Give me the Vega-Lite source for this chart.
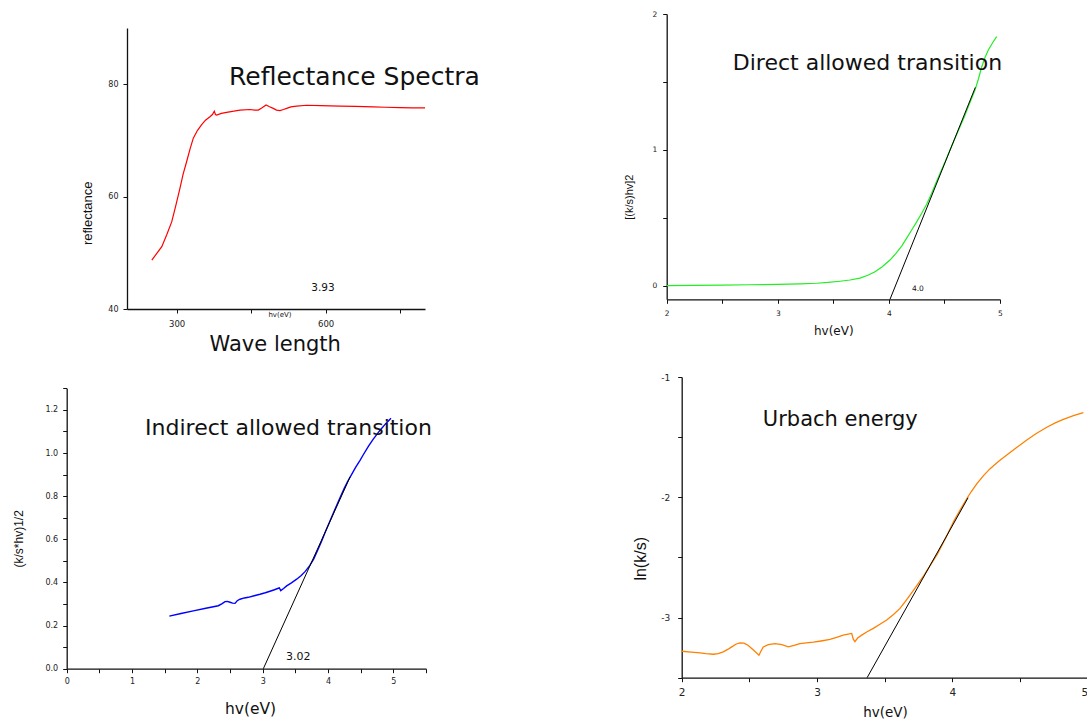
{
  "$schema": "https://vega.github.io/schema/vega-lite/v6.json",
  "width": 1087,
  "height": 720,
  "padding": 0,
  "autosize": {"type": "none"},
  "background": "white",
  "config": {
    "view": {"stroke": null},
    "axis": {
      "grid": false,
      "domainColor": "#111111",
      "domainWidth": 1.3,
      "tickColor": "#111111",
      "tickWidth": 1,
      "tickSize": 4,
      "labelColor": "#222222",
      "titleColor": "#111111",
      "labelFont": "DejaVu Sans",
      "titleFont": "DejaVu Sans",
      "titleFontWeight": "normal",
      "labelFontWeight": "normal",
      "labelFlush": false,
      "labelOverlap": false
    },
    "text": {"font": "DejaVu Sans", "color": "#111111"}
  },
  "datasets": {
    "reflectance": [
      {"x": 250, "y": 48.7}, {"x": 260, "y": 49.9}, {"x": 270, "y": 51.1}, {"x": 280, "y": 53.2},
      {"x": 290, "y": 55.5}, {"x": 298, "y": 58.3}, {"x": 306.7, "y": 61.5}, {"x": 313, "y": 64.0},
      {"x": 320, "y": 66.2}, {"x": 327, "y": 68.5}, {"x": 333.5, "y": 70.4}, {"x": 342, "y": 71.8},
      {"x": 350.4, "y": 72.8}, {"x": 358, "y": 73.6}, {"x": 367, "y": 74.2}, {"x": 372, "y": 74.6},
      {"x": 375.8, "y": 75.2}, {"x": 378, "y": 74.6}, {"x": 380.6, "y": 74.5}, {"x": 390, "y": 74.8},
      {"x": 400.7, "y": 75.0}, {"x": 415, "y": 75.2}, {"x": 427.5, "y": 75.4}, {"x": 447.6, "y": 75.5},
      {"x": 457, "y": 75.4}, {"x": 464.4, "y": 75.4}, {"x": 472, "y": 75.8}, {"x": 480, "y": 76.3},
      {"x": 487, "y": 76.0}, {"x": 494.6, "y": 75.7}, {"x": 501, "y": 75.4}, {"x": 508, "y": 75.3},
      {"x": 515, "y": 75.5}, {"x": 521.5, "y": 75.7}, {"x": 530, "y": 75.95}, {"x": 541.6, "y": 76.1},
      {"x": 561.8, "y": 76.25}, {"x": 590, "y": 76.2}, {"x": 628.8, "y": 76.1}, {"x": 660, "y": 76.05},
      {"x": 695.9, "y": 75.96}, {"x": 720, "y": 75.9}, {"x": 749.6, "y": 75.84}, {"x": 775, "y": 75.8},
      {"x": 800, "y": 75.8}
    ],
    "reflectance_title": [{"x": 658, "y": 81.3, "label": "Reflectance Spectra"}],
    "reflectance_value": [{"x": 594.6, "y": 43.7, "label": "3.93"}],
    "reflectance_unit": [{"x": 508, "y": 38.9, "label": "hv(eV)"}],
    "direct": [
      {"x": 2.0, "y": 0.0}, {"x": 2.25, "y": 0.002}, {"x": 2.5, "y": 0.004}, {"x": 2.75, "y": 0.007},
      {"x": 3.0, "y": 0.01}, {"x": 3.2, "y": 0.014}, {"x": 3.35, "y": 0.018}, {"x": 3.45, "y": 0.024},
      {"x": 3.56, "y": 0.033}, {"x": 3.65, "y": 0.042}, {"x": 3.74, "y": 0.056}, {"x": 3.81, "y": 0.077},
      {"x": 3.875, "y": 0.103}, {"x": 3.94, "y": 0.14}, {"x": 4.01, "y": 0.189}, {"x": 4.06, "y": 0.235},
      {"x": 4.115, "y": 0.292}, {"x": 4.16, "y": 0.35}, {"x": 4.205, "y": 0.41}, {"x": 4.25, "y": 0.47},
      {"x": 4.295, "y": 0.533}, {"x": 4.34, "y": 0.6}, {"x": 4.385, "y": 0.68}, {"x": 4.42, "y": 0.75},
      {"x": 4.46, "y": 0.827}, {"x": 4.505, "y": 0.91}, {"x": 4.55, "y": 0.999}, {"x": 4.595, "y": 1.085},
      {"x": 4.64, "y": 1.17}, {"x": 4.68, "y": 1.245}, {"x": 4.715, "y": 1.318}, {"x": 4.745, "y": 1.38},
      {"x": 4.775, "y": 1.44}, {"x": 4.805, "y": 1.52}, {"x": 4.835, "y": 1.61}, {"x": 4.865, "y": 1.68},
      {"x": 4.895, "y": 1.735}, {"x": 4.935, "y": 1.79}, {"x": 4.97, "y": 1.833}
    ],
    "direct_fit": [{"x": 4.01, "y": -0.1}, {"x": 4.778, "y": 1.46}],
    "direct_title": [{"x": 3.807, "y": 1.637, "label": "Direct allowed transition"}],
    "direct_value": [{"x": 4.261, "y": -0.022, "label": "4.0"}],
    "indirect": [
      {"x": 1.571, "y": 0.244}, {"x": 1.75, "y": 0.256}, {"x": 1.938, "y": 0.268}, {"x": 2.13, "y": 0.28},
      {"x": 2.321, "y": 0.292}, {"x": 2.38, "y": 0.302}, {"x": 2.423, "y": 0.311}, {"x": 2.46, "y": 0.312},
      {"x": 2.5, "y": 0.308}, {"x": 2.54, "y": 0.304}, {"x": 2.576, "y": 0.303}, {"x": 2.61, "y": 0.315},
      {"x": 2.653, "y": 0.322}, {"x": 2.72, "y": 0.328}, {"x": 2.78, "y": 0.331}, {"x": 2.87, "y": 0.338},
      {"x": 2.959, "y": 0.345}, {"x": 3.04, "y": 0.352}, {"x": 3.112, "y": 0.359}, {"x": 3.18, "y": 0.366},
      {"x": 3.239, "y": 0.373}, {"x": 3.255, "y": 0.375}, {"x": 3.276, "y": 0.362}, {"x": 3.32, "y": 0.372},
      {"x": 3.367, "y": 0.384}, {"x": 3.44, "y": 0.398}, {"x": 3.52, "y": 0.415}, {"x": 3.59, "y": 0.432},
      {"x": 3.648, "y": 0.45}, {"x": 3.72, "y": 0.478}, {"x": 3.78, "y": 0.508}, {"x": 3.84, "y": 0.548},
      {"x": 3.9, "y": 0.59}, {"x": 3.96, "y": 0.635}, {"x": 4.03, "y": 0.685}, {"x": 4.1, "y": 0.735},
      {"x": 4.18, "y": 0.79}, {"x": 4.25, "y": 0.837}, {"x": 4.3, "y": 0.868}, {"x": 4.36, "y": 0.9},
      {"x": 4.42, "y": 0.932}, {"x": 4.49, "y": 0.966}, {"x": 4.54, "y": 0.992}, {"x": 4.62, "y": 1.032},
      {"x": 4.69, "y": 1.063}, {"x": 4.8, "y": 1.107}, {"x": 4.88, "y": 1.135}, {"x": 4.964, "y": 1.161}
    ],
    "indirect_fit": [{"x": 3.01, "y": 0.0}, {"x": 4.34, "y": 0.89}],
    "indirect_title": [{"x": 3.395, "y": 1.118, "label": "Indirect allowed transition"}],
    "indirect_value": [{"x": 3.545, "y": 0.053, "label": "3.02"}],
    "urbach": [
      {"x": 2.0, "y": -3.28}, {"x": 2.07, "y": -3.287}, {"x": 2.135, "y": -3.294}, {"x": 2.18, "y": -3.3},
      {"x": 2.234, "y": -3.305}, {"x": 2.27, "y": -3.3}, {"x": 2.307, "y": -3.285}, {"x": 2.34, "y": -3.265},
      {"x": 2.37, "y": -3.244}, {"x": 2.4, "y": -3.222}, {"x": 2.43, "y": -3.21}, {"x": 2.46, "y": -3.213},
      {"x": 2.49, "y": -3.23}, {"x": 2.53, "y": -3.27}, {"x": 2.571, "y": -3.313}, {"x": 2.585, "y": -3.28},
      {"x": 2.603, "y": -3.244}, {"x": 2.64, "y": -3.225}, {"x": 2.69, "y": -3.216}, {"x": 2.74, "y": -3.225},
      {"x": 2.788, "y": -3.244}, {"x": 2.83, "y": -3.232}, {"x": 2.874, "y": -3.216}, {"x": 2.92, "y": -3.21},
      {"x": 2.973, "y": -3.205}, {"x": 3.03, "y": -3.195}, {"x": 3.096, "y": -3.182}, {"x": 3.15, "y": -3.163},
      {"x": 3.194, "y": -3.146}, {"x": 3.23, "y": -3.138}, {"x": 3.256, "y": -3.132}, {"x": 3.268, "y": -3.18},
      {"x": 3.28, "y": -3.2}, {"x": 3.3, "y": -3.17}, {"x": 3.33, "y": -3.146}, {"x": 3.37, "y": -3.118},
      {"x": 3.416, "y": -3.09}, {"x": 3.465, "y": -3.055}, {"x": 3.515, "y": -3.02}, {"x": 3.565, "y": -2.975},
      {"x": 3.613, "y": -2.924}, {"x": 3.65, "y": -2.87}, {"x": 3.687, "y": -2.814}, {"x": 3.74, "y": -2.73},
      {"x": 3.79, "y": -2.65}, {"x": 3.84, "y": -2.56}, {"x": 3.89, "y": -2.47}, {"x": 3.95, "y": -2.34},
      {"x": 4.01, "y": -2.2}, {"x": 4.06, "y": -2.1}, {"x": 4.106, "y": -2.012}, {"x": 4.14, "y": -1.952},
      {"x": 4.18, "y": -1.888}, {"x": 4.23, "y": -1.82}, {"x": 4.279, "y": -1.762}, {"x": 4.34, "y": -1.702},
      {"x": 4.402, "y": -1.649}, {"x": 4.47, "y": -1.59}, {"x": 4.55, "y": -1.524}, {"x": 4.62, "y": -1.47},
      {"x": 4.698, "y": -1.418}, {"x": 4.76, "y": -1.382}, {"x": 4.82, "y": -1.352}, {"x": 4.9, "y": -1.32},
      {"x": 4.968, "y": -1.297}
    ],
    "urbach_fit": [{"x": 3.37, "y": -3.5}, {"x": 4.116, "y": -2.004}],
    "urbach_title": [{"x": 3.172, "y": -1.358, "label": "Urbach energy"}]
  },
  "layer": [
    {
      "data": {"name": "reflectance"},
      "mark": {"type": "line", "color": "#ff0000", "strokeWidth": 1.2},
      "encoding": {
        "x": {"field": "x", "type": "quantitative",
          "scale": {"domain": [200, 800], "range": [127, 425], "nice": false, "zero": false},
          "axis": {"orient": "bottom", "offset": -411, "values": [300, 450, 600, 750],
            "labelExpr": "datum.value == 300 || datum.value == 600 ? format(datum.value, 'd') : ''",
            "labelFontSize": 8.5, "labelPadding": 6,
            "title": "Wave length", "titleFontSize": 21, "titleX": 274.7, "titleY": 35,
            "titleAlign": "center", "titleBaseline": "middle", "titleAngle": 0}},
        "y": {"field": "y", "type": "quantitative",
          "scale": {"domain": [40, 90], "range": [309, 28], "nice": false, "zero": false},
          "axis": {"orient": "left", "offset": -127, "values": [40, 60, 80],
            "labelExpr": "format(datum.value, 'd')",
            "labelFontSize": 8, "labelPadding": 5,
            "title": "reflectance", "titleFont": "Liberation Sans", "titleFontSize": 13,
            "titleX": -39.7, "titleY": 212.8, "titleAngle": 270,
            "titleAlign": "center", "titleBaseline": "middle"}}
      }
    },
    {
      "data": {"name": "reflectance_title"},
      "mark": {"type": "text", "fontSize": 25, "align": "center", "baseline": "middle"},
      "encoding": {
        "x": {"field": "x", "type": "quantitative", "scale": {"domain": [200, 800], "range": [127, 425], "nice": false, "zero": false}, "axis": null},
        "y": {"field": "y", "type": "quantitative", "scale": {"domain": [40, 90], "range": [309, 28], "nice": false, "zero": false}, "axis": null},
        "text": {"field": "label"}
      }
    },
    {
      "data": {"name": "reflectance_value"},
      "mark": {"type": "text", "fontSize": 10.5, "align": "center", "baseline": "middle"},
      "encoding": {
        "x": {"field": "x", "type": "quantitative", "scale": {"domain": [200, 800], "range": [127, 425], "nice": false, "zero": false}, "axis": null},
        "y": {"field": "y", "type": "quantitative", "scale": {"domain": [40, 90], "range": [309, 28], "nice": false, "zero": false}, "axis": null},
        "text": {"field": "label"}
      }
    },
    {
      "data": {"name": "reflectance_unit"},
      "mark": {"type": "text", "fontSize": 7, "align": "center", "baseline": "middle"},
      "encoding": {
        "x": {"field": "x", "type": "quantitative", "scale": {"domain": [200, 800], "range": [127, 425], "nice": false, "zero": false}, "axis": null},
        "y": {"field": "y", "type": "quantitative", "scale": {"domain": [40, 90], "range": [309, 28], "nice": false, "zero": false}, "axis": null},
        "text": {"field": "label"}
      }
    },
    {
      "data": {"name": "direct"},
      "mark": {"type": "line", "color": "#22ee22", "strokeWidth": 1.2},
      "encoding": {
        "x": {"field": "x", "type": "quantitative",
          "scale": {"domain": [2, 5], "range": [666.7, 1000], "nice": false, "zero": false},
          "axis": {"orient": "bottom", "offset": -420.7, "values": [2, 2.5, 3, 3.5, 4, 4.5, 5],
            "labelExpr": "datum.value % 1 == 0 ? format(datum.value, 'd') : ''",
            "labelFontSize": 7.5, "labelPadding": 6,
            "title": "hv(eV)", "titleFontSize": 12, "titleX": 833.3, "titleY": 30.7,
            "titleAlign": "center", "titleBaseline": "middle", "titleAngle": 0}},
        "y": {"field": "y", "type": "quantitative",
          "scale": {"domain": [-0.1, 2], "range": [299.3, 14], "nice": false, "zero": false},
          "axis": {"orient": "left", "offset": -666.7, "values": [0, 0.5, 1, 1.5, 2],
            "labelExpr": "datum.value % 1 == 0 ? format(datum.value, 'd') : ''",
            "labelFontSize": 7.5, "labelPadding": 6,
            "title": "[(k/s)hv]2", "titleFont": "Liberation Sans", "titleFontSize": 11,
            "titleX": -37.7, "titleY": 196.7, "titleAngle": 270,
            "titleAlign": "center", "titleBaseline": "middle"}}
      }
    },
    {
      "data": {"name": "direct_fit"},
      "mark": {"type": "line", "color": "#000000", "strokeWidth": 1},
      "encoding": {
        "x": {"field": "x", "type": "quantitative", "scale": {"domain": [2, 5], "range": [666.7, 1000], "nice": false, "zero": false}, "axis": null},
        "y": {"field": "y", "type": "quantitative", "scale": {"domain": [-0.1, 2], "range": [299.3, 14], "nice": false, "zero": false}, "axis": null}
      }
    },
    {
      "data": {"name": "direct_title"},
      "mark": {"type": "text", "fontSize": 22, "align": "center", "baseline": "middle"},
      "encoding": {
        "x": {"field": "x", "type": "quantitative", "scale": {"domain": [2, 5], "range": [666.7, 1000], "nice": false, "zero": false}, "axis": null},
        "y": {"field": "y", "type": "quantitative", "scale": {"domain": [-0.1, 2], "range": [299.3, 14], "nice": false, "zero": false}, "axis": null},
        "text": {"field": "label"}
      }
    },
    {
      "data": {"name": "direct_value"},
      "mark": {"type": "text", "fontSize": 7.5, "align": "center", "baseline": "middle"},
      "encoding": {
        "x": {"field": "x", "type": "quantitative", "scale": {"domain": [2, 5], "range": [666.7, 1000], "nice": false, "zero": false}, "axis": null},
        "y": {"field": "y", "type": "quantitative", "scale": {"domain": [-0.1, 2], "range": [299.3, 14], "nice": false, "zero": false}, "axis": null},
        "text": {"field": "label"}
      }
    },
    {
      "data": {"name": "indirect"},
      "mark": {"type": "line", "color": "#0000ff", "strokeWidth": 1.4},
      "encoding": {
        "x": {"field": "x", "type": "quantitative",
          "scale": {"domain": [0, 5.5], "range": [66.7, 426], "nice": false, "zero": false},
          "axis": {"orient": "bottom", "offset": -51.3, "values": [0, 0.5, 1, 1.5, 2, 2.5, 3, 3.5, 4, 4.5, 5, 5.5],
            "labelExpr": "datum.value % 1 == 0 ? format(datum.value, 'd') : ''",
            "labelFontSize": 8, "labelPadding": 5,
            "title": "hv(eV)", "titleFontSize": 15.5, "titleX": 250, "titleY": 39.6,
            "titleAlign": "center", "titleBaseline": "middle", "titleAngle": 0}},
        "y": {"field": "y", "type": "quantitative",
          "scale": {"domain": [0, 1.3], "range": [668.7, 388.3], "nice": false, "zero": false},
          "axis": {"orient": "left", "offset": -66.7, "values": [0, 0.1, 0.2, 0.3, 0.4, 0.5, 0.6, 0.7, 0.8, 0.9, 1.0, 1.1, 1.2, 1.3],
            "labelExpr": "round(datum.value * 10) % 2 == 0 && datum.value < 1.25 ? format(datum.value, '.1f') : ''",
            "labelFontSize": 8, "labelPadding": 5,
            "title": "(k/s*hv)1/2", "titleFont": "Liberation Sans", "titleFontSize": 12,
            "titleX": -47.7, "titleY": 538.3, "titleAngle": 270,
            "titleAlign": "center", "titleBaseline": "middle"}}
      }
    },
    {
      "data": {"name": "indirect_fit"},
      "mark": {"type": "line", "color": "#000000", "strokeWidth": 1},
      "encoding": {
        "x": {"field": "x", "type": "quantitative", "scale": {"domain": [0, 5.5], "range": [66.7, 426], "nice": false, "zero": false}, "axis": null},
        "y": {"field": "y", "type": "quantitative", "scale": {"domain": [0, 1.3], "range": [668.7, 388.3], "nice": false, "zero": false}, "axis": null}
      }
    },
    {
      "data": {"name": "indirect_title"},
      "mark": {"type": "text", "fontSize": 22, "align": "center", "baseline": "middle"},
      "encoding": {
        "x": {"field": "x", "type": "quantitative", "scale": {"domain": [0, 5.5], "range": [66.7, 426], "nice": false, "zero": false}, "axis": null},
        "y": {"field": "y", "type": "quantitative", "scale": {"domain": [0, 1.3], "range": [668.7, 388.3], "nice": false, "zero": false}, "axis": null},
        "text": {"field": "label"}
      }
    },
    {
      "data": {"name": "indirect_value"},
      "mark": {"type": "text", "fontSize": 11, "align": "center", "baseline": "middle"},
      "encoding": {
        "x": {"field": "x", "type": "quantitative", "scale": {"domain": [0, 5.5], "range": [66.7, 426], "nice": false, "zero": false}, "axis": null},
        "y": {"field": "y", "type": "quantitative", "scale": {"domain": [0, 1.3], "range": [668.7, 388.3], "nice": false, "zero": false}, "axis": null},
        "text": {"field": "label"}
      }
    },
    {
      "data": {"name": "urbach"},
      "mark": {"type": "line", "color": "#ff8000", "strokeWidth": 1.3},
      "encoding": {
        "x": {"field": "x", "type": "quantitative",
          "scale": {"domain": [2, 5], "range": [681.7, 1087.7], "nice": false, "zero": false},
          "axis": {"orient": "bottom", "offset": -42.3, "values": [2, 2.5, 3, 3.5, 4, 4.5, 5],
            "labelExpr": "datum.value % 1 == 0 ? format(datum.value, 'd') : ''",
            "labelAlign": {"condition": {"test": "datum.value == 5", "value": "right"}, "value": "center"},
            "labelFontSize": 10.5, "labelPadding": 6,
            "title": "hv(eV)", "titleFontSize": 13.5, "titleX": 885, "titleY": 35,
            "titleAlign": "center", "titleBaseline": "middle", "titleAngle": 0}},
        "y": {"field": "y", "type": "quantitative",
          "scale": {"domain": [-3.5, -1], "range": [677.7, 377], "nice": false, "zero": false},
          "axis": {"orient": "left", "offset": -681.7, "values": [-3.5, -3, -2.5, -2, -1.5, -1],
            "labelExpr": "datum.value % 1 == 0 ? '-' + format(abs(datum.value), 'd') : ''",
            "labelFontSize": 9, "labelPadding": 8,
            "title": "ln(k/s)", "titleFont": "Liberation Sans", "titleFontSize": 16,
            "titleX": -41, "titleY": 558.3, "titleAngle": 270,
            "titleAlign": "center", "titleBaseline": "middle"}}
      }
    },
    {
      "data": {"name": "urbach_fit"},
      "mark": {"type": "line", "color": "#000000", "strokeWidth": 1},
      "encoding": {
        "x": {"field": "x", "type": "quantitative", "scale": {"domain": [2, 5], "range": [681.7, 1087.7], "nice": false, "zero": false}, "axis": null},
        "y": {"field": "y", "type": "quantitative", "scale": {"domain": [-3.5, -1], "range": [677.7, 377], "nice": false, "zero": false}, "axis": null}
      }
    },
    {
      "data": {"name": "urbach_title"},
      "mark": {"type": "text", "fontSize": 21, "align": "center", "baseline": "middle"},
      "encoding": {
        "x": {"field": "x", "type": "quantitative", "scale": {"domain": [2, 5], "range": [681.7, 1087.7], "nice": false, "zero": false}, "axis": null},
        "y": {"field": "y", "type": "quantitative", "scale": {"domain": [-3.5, -1], "range": [677.7, 377], "nice": false, "zero": false}, "axis": null},
        "text": {"field": "label"}
      }
    }
  ],
  "resolve": {
    "scale": {"x": "independent", "y": "independent"},
    "axis": {"x": "independent", "y": "independent"}
  }
}
